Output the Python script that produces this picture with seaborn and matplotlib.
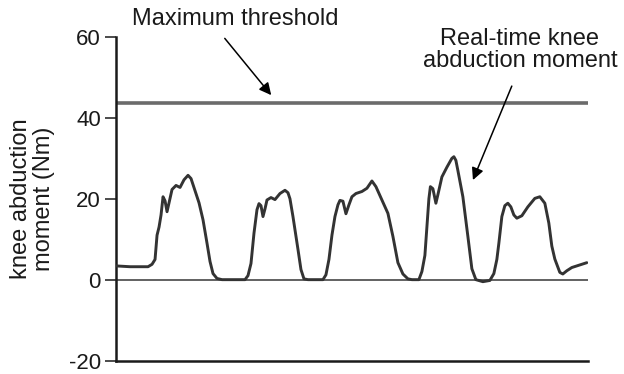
import seaborn as sns
import matplotlib.pyplot as plt
import pandas as pd

# knee abduction moment trace (sample index, Nm)
time = [0, 14, 32, 36, 39, 41, 43, 45, 47, 49, 51, 53, 56, 60, 64, 68, 72, 75, 79, 83, 87, 91, 94, 97, 101, 106,
        129, 132, 135, 138, 141, 143, 145, 147, 149, 151, 155, 159, 164, 169, 172, 174, 177, 182, 185, 188, 192,
        207, 210, 213, 216, 219, 222, 224, 227, 230, 233, 236, 240, 246, 251, 256, 260, 266, 272, 277, 282, 287,
        292, 296, 303, 306, 309, 311, 313, 314.5, 317, 320, 322, 326, 331, 336, 338, 340, 342, 347, 352, 356,
        360, 367, 374, 378, 381, 383, 386, 389, 392, 395, 398, 401, 406, 412, 419, 424, 429, 433, 436, 439, 444,
        447, 451, 456, 461, 471]
moment = [3.4, 3.2, 3.2, 3.8, 5, 11, 13, 16, 20.5, 19.5, 16.8, 19, 22.3, 23.3, 22.8, 24.7, 25.8, 25, 22, 19,
          14.8, 9, 4.5, 1.5, 0.3, 0,
          0, 1, 4, 11.5, 17.3, 18.8, 18.3, 15.6, 17.5, 19.7, 20.3, 19.8, 21.3, 22.1, 21.5, 20, 15.6, 7.5, 2.5,
          0.2, 0,
          0, 1.2, 5, 11, 15.6, 18.5, 19.6, 19.4, 16.3, 18.5, 20.5, 21.3, 21.8, 22.6, 24.4, 23, 19.7, 16.4,
          10.7, 4.2, 1.4, 0.2, 0,
          0, 2, 6, 13, 20, 23, 22.5, 18.9, 21, 25.4, 27.8, 30, 30.4, 29.5, 27, 20.5, 10.7, 2.7, 0,
          -0.5, -0.2, 1.5, 5, 9, 15.6, 18.3, 18.9, 18, 16, 15.2, 15.8, 18, 20.1, 20.5, 18.9, 14, 8.3, 5.1,
          1.8, 1.4, 2.2, 3, 3.4, 4.2]
threshold = 43.8
yticks = [-20, 0, 20, 40, 60]

df = pd.DataFrame({'time': time, 'moment': moment})

sns.set_style('white')
plt.rcParams['font.family'] = ['Liberation Sans', 'DejaVu Sans']
plt.rcParams['axes.unicode_minus'] = False

fig = plt.figure(figsize=(6.24, 3.74), dpi=100)
ax = fig.add_axes([0.186, 0.036, 0.756, 0.865])

ax.axhline(threshold, color='#6b6b6b', lw=2.6, zorder=2)
ax.axhline(0, color='#555555', lw=1.3, zorder=1)
sns.lineplot(data=df, x='time', y='moment', ax=ax, color='#333333', lw=2.1, zorder=3)

ax.set_xlim(0, 472)
ax.set_ylim(-20, 60)
ax.set_xticks([])
ax.set_yticks(yticks)
ax.set_yticklabels([str(v) for v in yticks])
ax.tick_params(axis='y', direction='out', length=8, width=1.1, pad=3,
               labelsize=16, colors='#1a1a1a', left=True)
ax.set_xlabel('')
ax.set_ylabel('knee abduction\nmoment (Nm)', fontsize=17, labelpad=10, color='#1a1a1a',
              linespacing=1.05)

for s in ['top', 'right']:
    ax.spines[s].set_visible(False)
for s in ['left', 'bottom']:
    ax.spines[s].set_color('#1a1a1a')
    ax.spines[s].set_linewidth(1.8)

# annotations
ax.text(119, 64.4, 'Maximum threshold', fontsize=17, ha='center', va='center',
        color='#1a1a1a', clip_on=False)
ax.annotate('', xy=(157, 45.1), xytext=(107, 60.2), annotation_clip=False,
            arrowprops=dict(arrowstyle='-|>', color='black', lw=1.1, mutation_scale=18))
ax.text(404, 56.8, 'Real-time knee\nabduction moment', fontsize=17, ha='center', va='center',
        color='#1a1a1a', linespacing=1.0, clip_on=False)
ax.annotate('', xy=(356, 24), xytext=(397, 48.5), annotation_clip=False,
            arrowprops=dict(arrowstyle='-|>', color='black', lw=1.1, mutation_scale=18))

fig.savefig('out.png', dpi=100)
